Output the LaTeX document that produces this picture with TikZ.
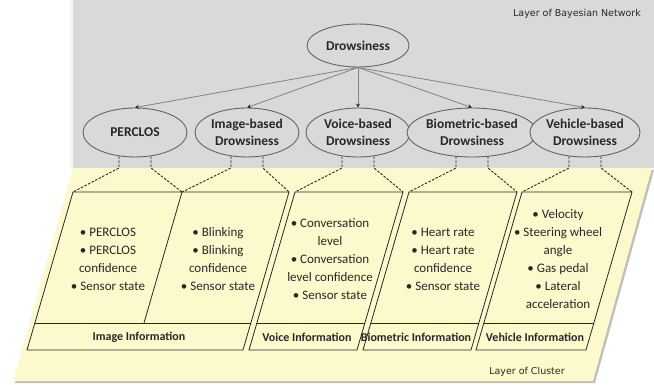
\documentclass[tikz,border=0pt]{standalone}
\usepackage{fontspec}
\setmainfont{Carlito}
\newfontfamily\labelfont{DejaVu Sans}
\usetikzlibrary{shapes.geometric,arrows.meta,calc}

\definecolor{bnbg}{RGB}{217,217,217}
\definecolor{clbg}{RGB}{252,250,204}
\definecolor{edgegray}{RGB}{100,100,100}
\definecolor{linkgray}{RGB}{130,130,130}
\definecolor{ink}{RGB}{40,40,40}

% one cluster box: name, top-left x, top-right x
\newcommand\drawclusterbox[3]{%
  \coordinate (#1-tl) at (#2,192);
  \coordinate (#1-tr) at (#3,192);
  \coordinate (#1-br) at (#3-46,350);
  \coordinate (#1-bl) at (#2-46,350);
  \coordinate (#1-ml) at (#2-38,323);
  \coordinate (#1-mr) at (#3-38,323);
  \draw[boxline] (#1-tl) -- (#1-tr) -- (#1-br) -- (#1-bl) -- cycle;
  \draw[boxline] (#1-ml) -- (#1-mr);
}

\begin{document}
\begin{tikzpicture}[x=1pt,y=-1pt,
  bnnode/.style={ellipse,draw=edgegray,line width=0.9pt,fill=bnbg,
    minimum width=104pt,minimum height=49pt,inner sep=0pt,align=center,
    font=\bfseries\fontsize{13.5}{16.5}\selectfont,text=ink},
  arrowlink/.style={draw=linkgray,line width=0.8pt,
    -{Stealth[length=4pt,width=4pt,color=ink]}},
  dashlink/.style={draw=ink,line width=0.9pt,dash pattern=on 2.5pt off 1.5pt},
  boxline/.style={draw=ink,line width=0.8pt},
  itemtext/.style={align=center,font=\fontsize{13}{18}\selectfont,text=ink,inner sep=0pt},
  bandtext/.style={font=\bfseries\fontsize{12}{14}\selectfont,text=ink,inner sep=0pt},
  layertext/.style={font=\labelfont\fontsize{9.5}{11}\selectfont,text=ink,inner sep=0pt}
]
\useasboundingbox (0,0) rectangle (654,385);

% the two layers
\fill[gray!8] (70,0) rectangle (73,168);
\fill[bnbg] (73,0) rectangle (654,168);
\fill[gray!50] (75,170) -- (654,170) -- (595,383) -- (15,383) -- cycle;
\fill[clbg] (73,168) -- (652,168) -- (593,381) -- (13,381) -- cycle;
\coordinate (lay) at (0,168);

% Bayesian network
\node[bnnode,minimum width=102pt,minimum height=43pt] (drow) at (358,45.5) {Drowsiness};
\node[bnnode] (perclos) at (135,132.5) {PERCLOS};
\node[bnnode] (image) at (247,132.5) {Image-based\\Drowsiness};
\node[bnnode] (voice) at (358,132.5) {Voice-based\\Drowsiness};
\node[bnnode] (bio) at (472,132.5) {Biometric-based\\Drowsiness};
\node[bnnode] (veh) at (585,132.5) {Vehicle-based\\Drowsiness};

\foreach \n in {perclos,image,voice,bio,veh}
  \draw[arrowlink] (drow.south) -- (\n.north);

% cluster boxes
\drawclusterbox{img}{73}{289}
\drawclusterbox{voc}{295}{403}
\drawclusterbox{bmt}{409}{517}
\drawclusterbox{vhc}{522}{632}
\coordinate (img-mt) at (182,192);
\coordinate (img-mb) at (144,323);
\draw[boxline] (img-mt) -- (img-mb);

% dashed links from the network nodes down to the clusters
\foreach \n/\a/\b in {perclos/img-tl/img-mt, image/img-mt/img-tr,
    voice/voc-tl/voc-tr, bio/bmt-tl/bmt-tr, veh/vhc-tl/vhc-tr}{
  \coordinate (\n-dl) at ($(\n.south)+(-16,-1)$);
  \coordinate (\n-dr) at ($(\n.south)+(16,-1)$);
  \draw[dashlink] (\n-dl) -- (\n-dl |- lay) -- (\a);
  \draw[dashlink] (\n-dr) -- (\n-dr |- lay) -- (\b);
}

% cluster contents
\node[itemtext] (t-perclos) at (108,259) {• PERCLOS\\• PERCLOS\\confidence\\• Sensor state};
\node[itemtext] (t-blink) at (218,259) {• Blinking\\• Blinking\\confidence\\• Sensor state};
\node[itemtext] (t-voice) at (330,259.5) {• Conversation\\level\\• Conversation\\level confidence\\• Sensor state};
\node[itemtext] (t-bio) at (443,259.5) {• Heart rate\\• Heart rate\\confidence\\• Sensor state};
\node[itemtext] (t-veh) at (558,259) {• Velocity\\• Steering wheel\\angle\\• Gas pedal\\• Lateral\\acceleration};

\node[bandtext] (b-img) at (139,337) {Image Information};
\node[bandtext] (b-voc) at (307,337) {Voice Information};
\node[bandtext] (b-bmt) at (416,337) {Biometric Information};
\node[bandtext] (b-vhc) at (535,337) {Vehicle Information};

% layer captions
\node[layertext,anchor=east] (cap-bn) at (641,14) {Layer of Bayesian Network};
\node[layertext] (cap-cl) at (527,372) {Layer of Cluster};
\end{tikzpicture}
\end{document}
